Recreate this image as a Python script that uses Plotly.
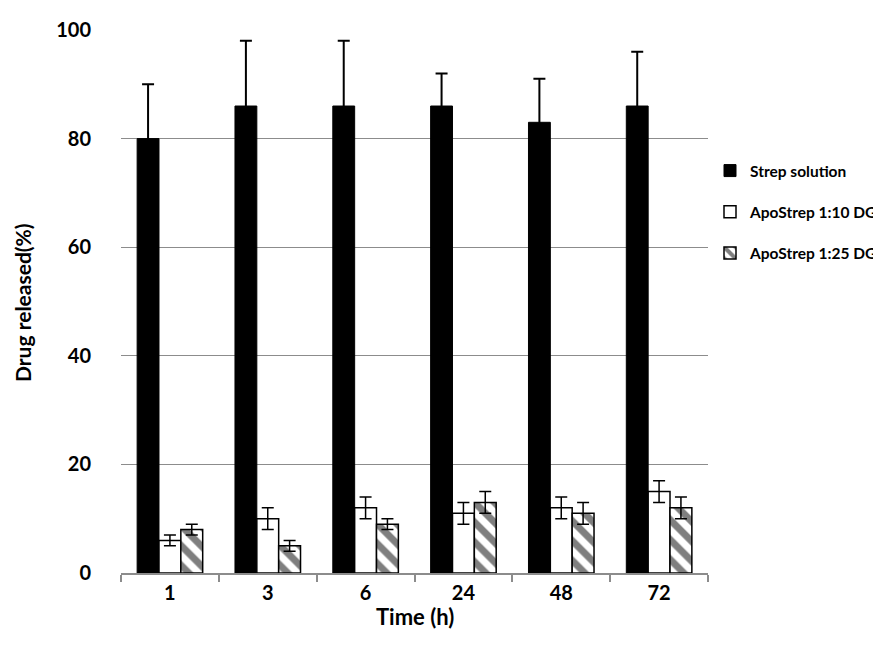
import plotly.graph_objects as go

times = ["1", "3", "6", "24", "48", "72"]
strep = [80, 86, 86, 86, 83, 86]
strep_err = [10, 12, 12, 6, 8, 10]
apo10 = [6, 10, 12, 11, 12, 15]
apo10_err = [1, 2, 2, 2, 2, 2]
apo25 = [8, 5, 9, 13, 11, 12]
apo25_err = [1, 1, 1, 2, 2, 2]
yticks = [0, 20, 40, 60, 80, 100]

FONT = "Lato"
W, H = 881, 654
L, R, T, B = 113, 181, 22, 89
PH = H - T - B

fig = go.Figure()
fig.add_trace(go.Bar(
    x=times, y=strep, name="Strep solution", legendgroup="a",
    marker=dict(color="black", line=dict(color="black", width=1)),
    error_y=dict(type="data", array=strep_err, color="black", thickness=2, width=6),
))
fig.add_trace(go.Bar(
    x=times, y=apo10, name="ApoStrep 1:10 DG", legendgroup="b",
    marker=dict(color="white", line=dict(color="black", width=1.5)),
    error_y=dict(type="data", array=apo10_err, color="black", thickness=1.5, width=6),
))
fig.add_trace(go.Bar(
    x=times, y=apo25, name="ApoStrep 1:25 DG", legendgroup="c",
    marker=dict(color="white", line=dict(color="black", width=1.5),
                pattern=dict(shape="\\", fgcolor="black", bgcolor="white",
                             size=14, solidity=0.5, fillmode="overlay")),
    error_y=dict(type="data", array=apo25_err, color="black", thickness=1.5, width=6),
))

fig.update_layout(
    width=W, height=H,
    margin=dict(l=L, r=R, t=T, b=B, autoexpand=False),
    paper_bgcolor="white", plot_bgcolor="white",
    barmode="group", bargap=0.33, bargroupgap=0,
    font=dict(family=FONT, size=20, color="black"),
    legend=dict(xref="container", yref="container",
                x=702 / W, xanchor="left", y=1 - 146 / H, yanchor="top",
                font=dict(family=FONT, size=15.5, color="black", weight="bold"),
                tracegroupgap=18, bgcolor="rgba(0,0,0,0)"),
    showlegend=True,
    xaxis=dict(
        type="category", showline=True, linecolor="#8c8c8c", linewidth=1.5,
        ticks="outside", tickson="boundaries", ticklen=7, tickcolor="#8c8c8c", tickwidth=1.5,
        tickfont=dict(family=FONT, size=20, weight="bold"),
        showgrid=False, ticklabelstandoff=1, automargin=False,
    ),
    yaxis=dict(
        range=[0, 100], tickvals=yticks, showline=False,
        showgrid=True, gridcolor="#8c8c8c", gridwidth=1.2,
        tickfont=dict(family=FONT, size=20, weight="bold"),
        ticks="", ticklabelstandoff=29, zeroline=False, automargin=False,
    ),
    annotations=[
        dict(text="<b>Drug released(%)</b>", xref="paper", yref="paper",
             x=(15 - L) / (W - L - R), y=(H - B - 295) / PH,
             xanchor="center", yanchor="middle", textangle=-90, showarrow=False,
             font=dict(family=FONT, size=21)),
        dict(text="<b>Time (h)</b>", xref="paper", yref="paper",
             x=0.5, y=(H - B - 608) / PH,
             xanchor="center", yanchor="middle", showarrow=False,
             font=dict(family=FONT, size=22)),
    ],
)

fig.write_html("out.html")
